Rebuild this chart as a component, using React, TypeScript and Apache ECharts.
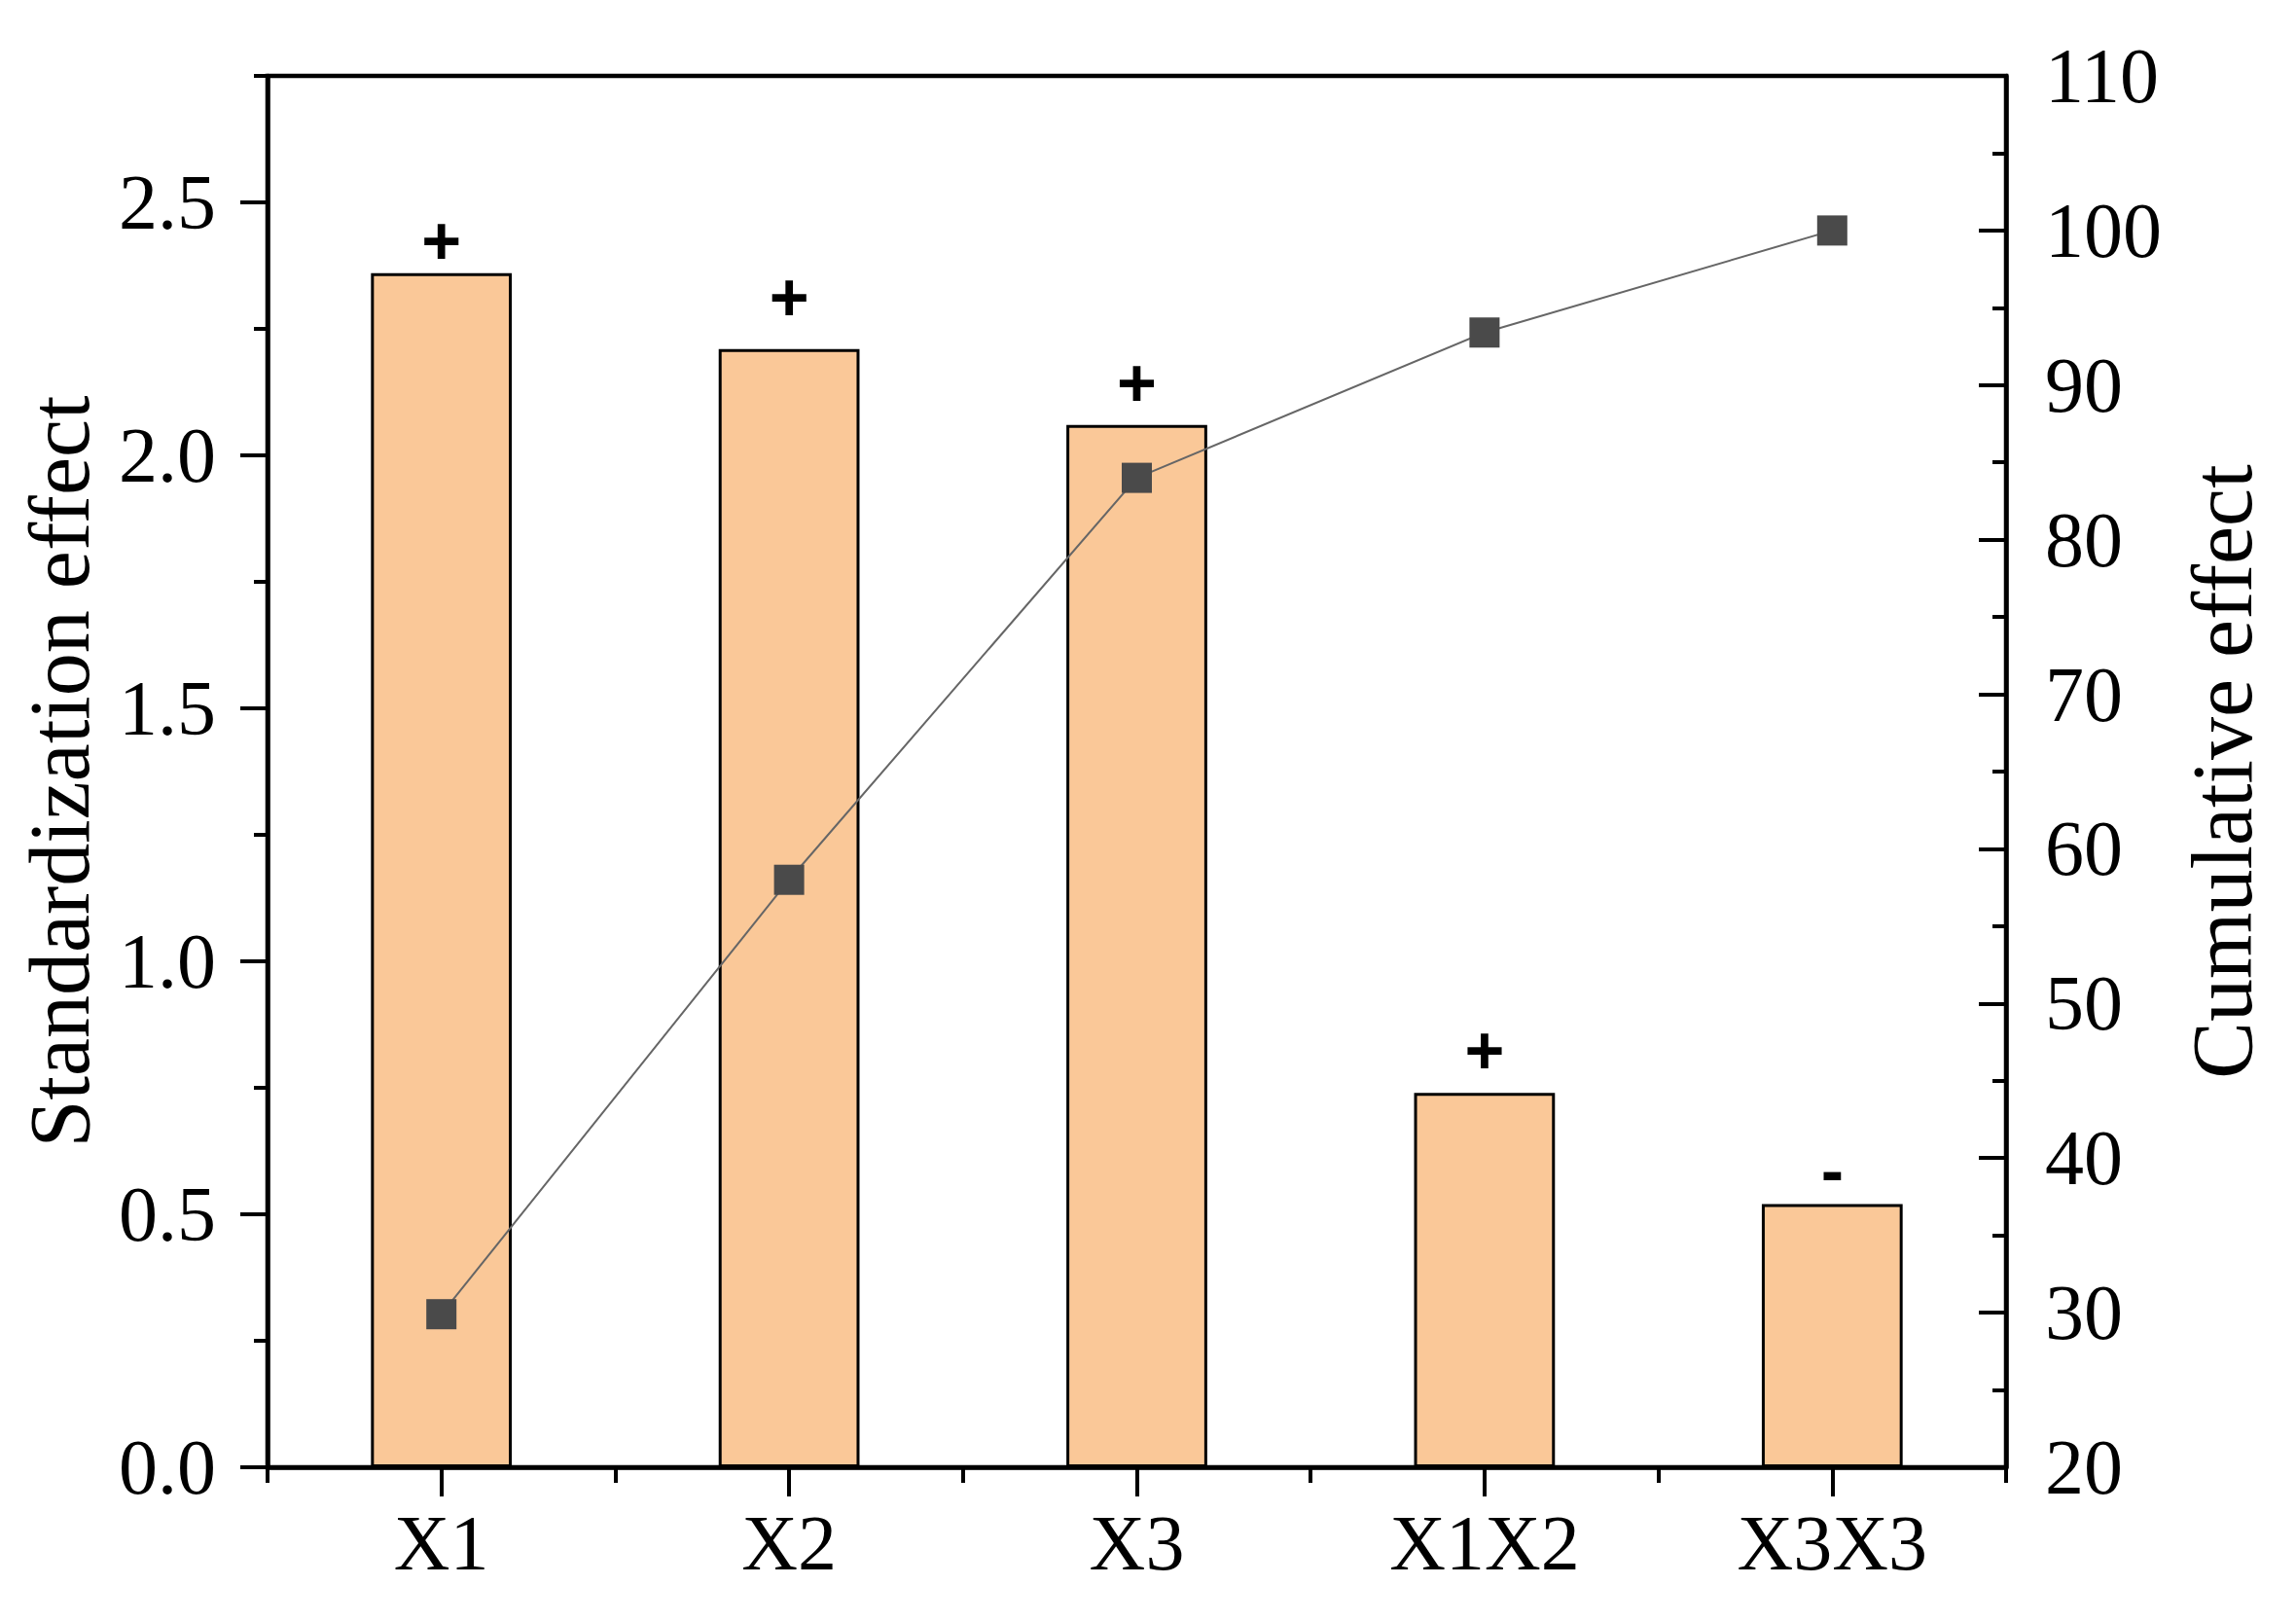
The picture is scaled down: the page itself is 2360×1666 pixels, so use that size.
import React, { useEffect, useRef } from "react";
import * as echarts from "echarts";

const categories = ["X1", "X2", "X3", "X1X2", "X3X3"];
const standardizedEffect = [2.36, 2.21, 2.06, 0.74, 0.52];
const cumulativeEffect = [29.9, 58.0, 84.0, 93.4, 100];
const effectSigns = ["+", "+", "+", "+", "-"];
const signLift = [0, 20, 10, 10, 2];
const leftMajorTicks = [0, 0.5, 1.0, 1.5, 2.0, 2.5];
const leftMinorTicks = [0.25, 0.75, 1.25, 1.75, 2.25, 2.75];

const SERIF = "Liberation Serif";
const SANS = "Liberation Sans";

export default function App() {
  const ref = useRef<HTMLDivElement>(null);

  useEffect(() => {
    if (!ref.current) return;
    const chart = echarts.init(ref.current, undefined, { renderer: "svg" });
    const axisLine = { show: true, lineStyle: { color: "#000", width: 4.5 } };
    const option: any = {
      animation: false,
      backgroundColor: "#fff",
      grid: {
        left: 275,
        right: 298,
        top: 78,
        bottom: 158,
        show: true,
        borderColor: "#000",
        borderWidth: 4.5,
        backgroundColor: "transparent",
      },
      xAxis: [
        {
          type: "category",
          data: categories,
          position: "bottom",
          boundaryGap: true,
          axisLine,
          axisTick: { show: true, alignWithLabel: true, length: 30, lineStyle: { color: "#000", width: 4 } },
          axisLabel: { fontFamily: SERIF, fontSize: 80, color: "#000", margin: 38 },
          splitLine: { show: false },
        },
        {
          type: "category",
          data: categories,
          position: "bottom",
          boundaryGap: true,
          axisLine: { show: false },
          axisTick: { show: true, alignWithLabel: false, length: 16, lineStyle: { color: "#000", width: 4 } },
          axisLabel: { show: false },
          splitLine: { show: false },
        },
      ],
      yAxis: [
        {
          type: "value",
          position: "left",
          min: 0,
          max: 2.75,
          interval: 0.25,
          name: "Standardization effect",
          nameLocation: "middle",
          nameGap: 170,
          nameTextStyle: { fontFamily: SERIF, fontSize: 88, color: "#000" },
          axisLine,
          axisTick: {
            show: true,
            length: 28,
            customValues: leftMajorTicks,
            lineStyle: { color: "#000", width: 4 },
          },
          axisLabel: {
            fontFamily: SERIF,
            fontSize: 80,
            color: "#000",
            margin: 53,
            customValues: leftMajorTicks,
            formatter: (v: number) => v.toFixed(1),
          },
          splitLine: { show: false },
        },
        {
          type: "value",
          position: "right",
          min: 20,
          max: 110,
          interval: 10,
          name: "Cumulative effect",
          nameLocation: "middle",
          nameGap: 178,
          nameTextStyle: { fontFamily: SERIF, fontSize: 88, color: "#000" },
          axisLine,
          axisTick: { show: true, inside: true, length: 28, lineStyle: { color: "#000", width: 4 } },
          minorTick: { show: true, splitNumber: 2, length: 14, lineStyle: { color: "#000", width: 4 } },
          axisLabel: { fontFamily: SERIF, fontSize: 80, color: "#000", margin: 40 },
          splitLine: { show: false },
        },
        {
          type: "value",
          position: "left",
          min: 0,
          max: 2.75,
          interval: 0.25,
          axisLine: { show: false },
          axisTick: {
            show: true,
            length: 14,
            customValues: leftMinorTicks,
            lineStyle: { color: "#000", width: 4 },
          },
          axisLabel: { show: false },
          splitLine: { show: false },
        },
      ],
      series: [
        {
          type: "bar",
          xAxisIndex: 0,
          yAxisIndex: 0,
          data: standardizedEffect.map((v, i) => ({
            value: v,
            label: { distance: -2 + signLift[i] },
          })),
          barWidth: "40.5%",
          itemStyle: { color: "#FAC898", borderColor: "#000", borderWidth: 3 },
          label: {
            show: true,
            position: "top",
            distance: -2,
            formatter: (p: any) => effectSigns[p.dataIndex],
            fontFamily: SANS,
            fontWeight: "bold",
            fontSize: 70,
            color: "#000",
          },
          z: 2,
        },
        {
          type: "line",
          xAxisIndex: 0,
          yAxisIndex: 1,
          data: cumulativeEffect,
          symbol: "rect",
          symbolSize: 31,
          lineStyle: { color: "#666666", width: 2 },
          itemStyle: { color: "#4A4A4A" },
          z: 5,
        },
      ],
    };
    chart.setOption(option);
    return () => chart.dispose();
  }, []);

  return (
    <div
      ref={ref}
      style={{ position: "absolute", left: 0, top: 0, width: 2360, height: 1666, background: "#fff" }}
    />
  );
}
